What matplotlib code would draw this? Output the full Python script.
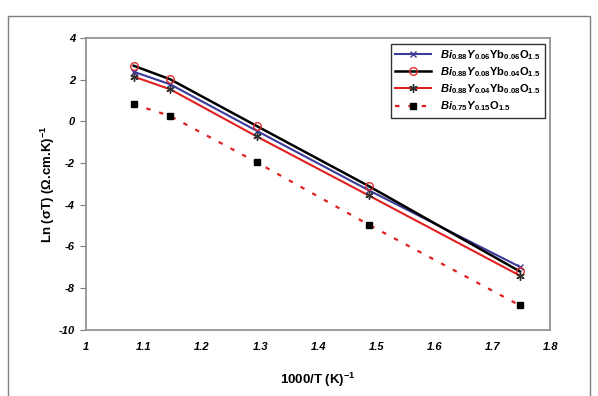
import matplotlib
matplotlib.use("Agg")
import matplotlib.pyplot as plt
from matplotlib.patches import Rectangle

plt.rcParams['font.family'] = ['Liberation Sans', 'DejaVu Sans']
plt.rcParams['axes.unicode_minus'] = False
plt.rcParams['mathtext.fontset'] = 'custom'
plt.rcParams['mathtext.it'] = 'Liberation Sans:bold:italic'
plt.rcParams['mathtext.rm'] = 'Liberation Sans:bold'
plt.rcParams['mathtext.bf'] = 'Liberation Sans:bold'

# data
x = [1.082, 1.145, 1.294, 1.487, 1.748]
y_yb06 = [2.38, 1.78, -0.45, -3.30, -6.98]
y_yb04 = [2.67, 2.02, -0.22, -3.10, -7.20]
y_yb08 = [2.15, 1.54, -0.72, -3.55, -7.40]
y_bi75 = [0.82, 0.26, -1.96, -4.95, -8.83]

labels = [r'$Bi_{0.88}Y_{0.06}\mathrm{Yb}_{0.06}\mathrm{O}_{1.5}$',
          r'$Bi_{0.88}Y_{0.08}\mathrm{Yb}_{0.04}\mathrm{O}_{1.5}$',
          r'$Bi_{0.88}Y_{0.04}\mathrm{Yb}_{0.08}\mathrm{O}_{1.5}$',
          r'$Bi_{0.75}Y_{0.15}\mathrm{O}_{1.5}$']

xticks = [1, 1.1, 1.2, 1.3, 1.4, 1.5, 1.6, 1.7, 1.8]
yticks = [-10, -8, -6, -4, -2, 0, 2, 4]

fig = plt.figure(figsize=(5.98, 3.96), dpi=100)
ax = fig.add_axes([0.144, 0.167, 0.776, 0.737])

# outer chart frame
fig.patches.append(Rectangle((8/598, -0.01), 582/598, 380/396 + 0.01, transform=fig.transFigure,
                             fill=False, edgecolor='#7f7f7f', linewidth=1.0))

ax.plot(x, y_yb06, color='#3b3b9b', linewidth=1.5, marker='x', markersize=5,
        markeredgecolor='#3b3b9b', label=labels[0])
ax.plot(x, y_yb04, color='black', linewidth=1.8, marker='o', markersize=5.5,
        markerfacecolor='none', markeredgecolor='#e03030', label=labels[1])
ax.plot(x, y_yb08, color='#e02020', linewidth=1.5, marker=(6, 2, 0), markersize=6,
        markeredgecolor='#303030', label=labels[2])
ax.plot(x, y_bi75, color='#e02020', linewidth=1.6, linestyle=(0, (2, 4)), marker='s',
        markersize=4.5, markerfacecolor='black', markeredgecolor='black', label=labels[3])

ax.set_xlim(1, 1.8)
ax.set_ylim(-10, 4)
ax.set_xticks(xticks)
ax.set_xticklabels([f'{t:g}' for t in xticks])
ax.set_yticks(yticks)
for lbl in ax.get_xticklabels() + ax.get_yticklabels():
    lbl.set_fontweight('bold')
    lbl.set_fontstyle('italic')
    lbl.set_fontsize(8)
ax.tick_params(axis='x', length=0, pad=9)
ax.tick_params(axis='y', length=4, direction='out', color='#7f7f7f', pad=4)
for s in ax.spines.values():
    s.set_color('#8c8c8c')
    s.set_linewidth(1.2)

ax.set_xlabel(r'1000/T (K)$^{\mathbf{-1}}$', fontsize=9.5, fontweight='bold', labelpad=13)
ax.set_ylabel(r'Ln ($\mathbf{\sigma}$T) (Ω.cm.K)$^{\mathbf{-1}}$', fontsize=9.5,
              fontweight='bold', labelpad=1)

leg = ax.legend(loc='upper right', fontsize=8, frameon=True, fancybox=False,
                edgecolor='black', borderaxespad=0.5, handlelength=3.2,
                labelspacing=0.3, borderpad=0.4)
leg.get_frame().set_linewidth(1.0)

fig.savefig('out.png', dpi=100)
